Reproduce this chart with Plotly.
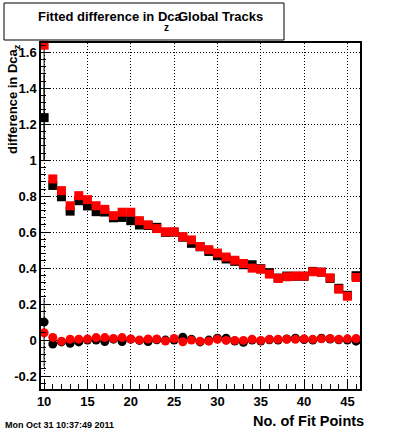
import plotly.graph_objects as go

fit_points = list(range(10, 47))

# Black squares (series 1)
black_sq = [1.237, 0.860, 0.797, 0.717, 0.775, 0.746, 0.714, 0.712, 0.680, 0.682, 0.664,
            0.640, 0.637, 0.627, 0.599, 0.600, 0.572, 0.538, 0.519, 0.493, 0.469,
            0.451, 0.438, 0.419, 0.419, 0.397, 0.375, 0.345, 0.356, 0.355, 0.355,
            0.382, 0.378, 0.343, 0.288, 0.249, 0.358]
# Red squares (series 2)
red_sq = [1.640, 0.896, 0.831, 0.747, 0.803, 0.781, 0.747, 0.727, 0.692, 0.711, 0.711,
          0.664, 0.641, 0.620, 0.602, 0.602, 0.575, 0.557, 0.520, 0.503, 0.484,
          0.462, 0.444, 0.426, 0.400, 0.394, 0.367, 0.343, 0.352, 0.356, 0.356,
          0.380, 0.377, 0.346, 0.283, 0.244, 0.348]
# Black circles (series 3)
black_ci = [0.100, -0.022, -0.010, -0.018, -0.010, 0.000, 0.000, -0.008, 0.005, -0.008, 0.005,
            -0.002, -0.008, 0.002, 0.000, 0.000, 0.016, 0.004, -0.010, 0.000, 0.010,
            0.010, -0.005, -0.012, 0.000, -0.005, 0.002, 0.000, 0.006, 0.010, 0.003,
            0.000, 0.010, 0.006, 0.002, 0.000, -0.006]
# Red circles (series 4)
red_ci = [0.041, 0.015, -0.006, 0.005, 0.005, 0.006, 0.014, 0.014, 0.009, 0.014, 0.006,
          0.000, 0.006, 0.006, -0.005, 0.009, -0.009, 0.000, -0.006, -0.006, 0.004,
          -0.002, -0.002, -0.002, 0.004, -0.002, 0.004, 0.004, 0.004, 0.004, 0.007,
          0.004, 0.007, 0.009, 0.004, 0.007, 0.009]

# Errors (only visible for the first point; the rest are hidden by the markers)
n_rest = len(fit_points) - 1
black_sq_err = [0.24] + [0.0] * n_rest
red_sq_err = [0.64] + [0.0] * n_rest
black_ci_err = [0.0] + [0.0] * n_rest
red_ci_err = [0.19] + [0.0] * n_rest

x_tick_vals = [10, 15, 20, 25, 30, 35, 40, 45]
y_tick_vals = [-0.2, 0, 0.2, 0.4, 0.6, 0.8, 1.0, 1.2, 1.4, 1.6]
y_tick_text = ["-0.2", "0", "0.2", "0.4", "0.6", "0.8", "1", "1.2", "1.4", "1.6"]

W, H = 400, 433
L, R, T, B = 41, 40, 43, 44

def px_x(px):
    return (px - L) / (W - L - R)

def px_y(py):
    return (H - B - py) / (H - T - B)

def err(vals, color):
    return dict(type="data", array=vals, visible=True, color=color, thickness=1, width=0)

fig = go.Figure()
fig.add_trace(go.Scatter(x=fit_points, y=black_sq, mode="markers", error_y=err(black_sq_err, "black"),
                         marker=dict(symbol="square", size=9, color="black"), cliponaxis=True))
fig.add_trace(go.Scatter(x=fit_points, y=black_ci, mode="markers", error_y=err(black_ci_err, "black"),
                         marker=dict(symbol="circle", size=9, color="black"), cliponaxis=True))
fig.add_trace(go.Scatter(x=fit_points, y=red_sq, mode="markers", error_y=err(red_sq_err, "black"),
                         marker=dict(symbol="square", size=9, color="#ff0000"), cliponaxis=False))
fig.add_trace(go.Scatter(x=fit_points, y=red_ci, mode="markers", error_y=err(red_ci_err, "black"),
                         marker=dict(symbol="circle", size=9, color="#ff0000"), cliponaxis=True))

font_family = "Liberation Sans, Arial, Helvetica, sans-serif"
axis_common = dict(
    showline=True, linecolor="black", linewidth=1.5, mirror=True,
    ticks="inside", tickcolor="black", tickwidth=1,
    showgrid=True, gridcolor="black", gridwidth=1, griddash="1px,2px",
    zeroline=False,
    tickfont=dict(family=font_family, size=13, color="black", weight="bold"),
)

fig.update_xaxes(range=[9.64, 46.45], tickmode="array", tickvals=x_tick_vals,
                 ticktext=[str(v) for v in x_tick_vals], ticklen=10,
                 minor=dict(dtick=1, tick0=10, ticklen=5, ticks="inside", tickcolor="black", showgrid=False),
                 **axis_common)
fig.update_yaxes(range=[-0.272, 1.652], tickmode="array", tickvals=y_tick_vals,
                 ticktext=y_tick_text, ticklen=9,
                 minor=dict(dtick=0.04, tick0=0, ticklen=5, ticks="inside", tickcolor="black", showgrid=False),
                 **axis_common)

fig.update_layout(
    width=W, height=H, showlegend=False,
    margin=dict(l=L, r=R, t=T, b=B),
    paper_bgcolor="white", plot_bgcolor="white",
    font=dict(family=font_family, color="black"),
    shapes=[dict(type="rect", xref="paper", yref="paper",
                 x0=px_x(4), x1=px_x(284), y0=px_y(40), y1=px_y(3),
                 line=dict(color="black", width=1), fillcolor="white", layer="above")],
    annotations=[
        dict(text="Fitted difference in Dca", xref="paper", yref="paper",
             x=px_x(36), y=px_y(17), xanchor="left", yanchor="middle", showarrow=False,
             font=dict(size=13, weight="bold", color="black")),
        dict(text="Global Tracks", xref="paper", yref="paper",
             x=px_x(176), y=px_y(17), xanchor="left", yanchor="middle", showarrow=False,
             font=dict(size=13, weight="bold", color="black")),
        dict(text="z", xref="paper", yref="paper",
             x=px_x(166), y=px_y(27), xanchor="center", yanchor="middle", showarrow=False,
             font=dict(size=10, weight="bold", color="black")),
        dict(text="difference in Dca<sub>z</sub>", xref="paper", yref="paper",
             x=px_x(13), y=px_y(42), xanchor="center", yanchor="top", textangle=-90,
             showarrow=False, font=dict(size=13, weight="bold", color="black")),
        dict(text="No. of Fit Points", xref="paper", yref="paper",
             x=px_x(366), y=px_y(421), xanchor="right", yanchor="middle", showarrow=False,
             font=dict(size=14.5, weight="bold", color="black")),
        dict(text="Mon Oct 31 10:37:49 2011", xref="paper", yref="paper",
             x=px_x(3), y=px_y(425), xanchor="left", yanchor="middle", showarrow=False,
             font=dict(size=9, weight="bold", color="black")),
    ],
)

fig.write_html("out.html", config={"displayModeBar": False},
               post_script="document.body.style.margin='0';document.body.style.padding='0';")
